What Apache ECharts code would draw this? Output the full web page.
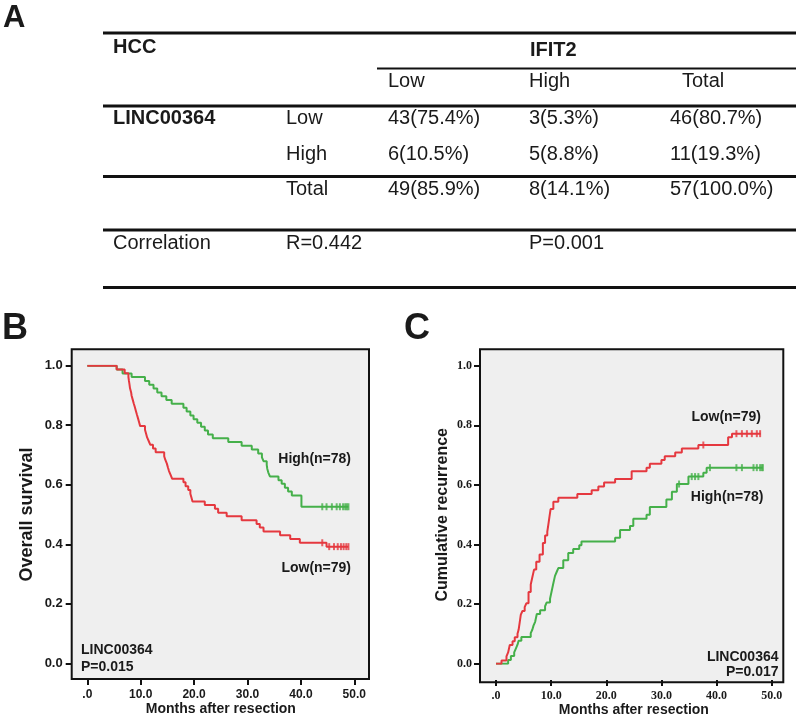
<!DOCTYPE html>
<html>
<head>
<meta charset="utf-8">
<script src="https://cdn.jsdelivr.net/npm/echarts@6/dist/echarts.min.js"></script>
<style>
html,body{margin:0;padding:0;background:#fff;}
#chart{width:797px;height:718px;}
</style>
</head>
<body>
<div id="chart"></div>
<script>
// ---------- DATA ----------
const tableTitle = 'HCC';
const tableGroup = 'IFIT2';
const colHeaders = ['Low', 'High', 'Total'];
const rowGroup = 'LINC00364';
const rowLabels = ['Low', 'High', 'Total'];
const cellValues = [
  ['43(75.4%)', '3(5.3%)', '46(80.7%)'],
  ['6(10.5%)', '5(8.8%)', '11(19.3%)'],
  ['49(85.9%)', '8(14.1%)', '57(100.0%)']
];
const correlationRow = ['Correlation', 'R=0.442', 'P=0.001'];

const xTicks = [0, 10, 20, 30, 40, 50];
const yTicks = [0, 0.2, 0.4, 0.6, 0.8, 1.0];

// Panel B: overall survival (Kaplan-Meier, [month, survival])
const osHigh = [[0,1],[5.5,0.987],[6.6,0.974],[8.3,0.962],[10.8,0.949],[11.6,0.936],[12.4,0.923],[13.1,0.910],[13.9,0.897],[14.8,0.885],[15.8,0.872],
  [18.0,0.859],[18.6,0.846],[19.3,0.833],[19.9,0.820],[20.6,0.808],[21.3,0.795],[22.0,0.782],[22.6,0.769],[23.5,0.756],[26.4,0.744],[28.9,0.731],
  [30.8,0.718],[32.0,0.705],[32.7,0.692],[33.0,0.679],[33.6,0.667],[33.7,0.654],[33.9,0.641],[34.2,0.628],[35.8,0.615],[36.4,0.603],[37.0,0.590],
  [37.6,0.577],[38.3,0.564],[40.1,0.526],[48.9,0.526]];
const osLow = [[0,1],[5.5,0.987],[7.0,0.975],[7.7,0.962],[7.8,0.949],[7.9,0.937],[8.0,0.924],[8.2,0.911],[8.3,0.899],[8.5,0.886],[8.7,0.873],[8.9,0.861],
  [9.1,0.848],[9.3,0.835],[9.5,0.823],[9.7,0.810],[9.9,0.797],[10.8,0.785],[11.0,0.772],[11.2,0.759],[11.5,0.747],[11.8,0.734],[12.3,0.722],[12.8,0.709],
  [14.4,0.696],[14.6,0.684],[14.9,0.671],[15.1,0.658],[15.3,0.646],[15.6,0.633],[15.9,0.620],[18.0,0.608],[18.4,0.595],[18.9,0.582],[19.3,0.570],
  [19.5,0.557],[19.7,0.544],[22.0,0.532],[23.9,0.519],[24.5,0.506],[26.1,0.494],[28.9,0.481],[31.7,0.468],[32.3,0.456],[33.0,0.443],[36.1,0.430],
  [38.0,0.418],[39.8,0.405],[44.8,0.392],[48.9,0.392]];
const osHighCensor = [[44.0,0.526],[44.8,0.526],[45.8,0.526],[46.7,0.526],[47.3,0.526],[47.9,0.526],[48.3,0.526],[48.6,0.526],[48.9,0.526]];
const osLowCensor = [[44.0,0.405],[45.3,0.392],[46.2,0.392],[46.9,0.392],[47.5,0.392],[48.0,0.392],[48.5,0.392],[48.9,0.392]];

// Panel C: cumulative recurrence ([month, cumulative proportion])
const crLow = [[0,0],[1.0,0.011],[1.9,0.025],[2.2,0.038],[2.5,0.063],[3.0,0.076],[3.4,0.089],[3.9,0.101],[4.1,0.114],[4.3,0.139],[4.5,0.165],[4.8,0.177],
  [5.2,0.190],[5.5,0.203],[5.9,0.241],[6.3,0.266],[6.6,0.291],[6.9,0.316],[7.3,0.342],[7.9,0.367],[8.5,0.405],[8.9,0.430],[9.3,0.443],[9.5,0.468],
  [9.7,0.494],[9.9,0.519],[10.4,0.544],[11.3,0.557],[14.75,0.570],[17.35,0.582],[18.56,0.595],[19.6,0.608],[21.6,0.620],[24.6,0.646],[27.3,0.658],
  [27.9,0.671],[30.0,0.684],[30.6,0.696],[32.5,0.709],[33.7,0.722],[36.7,0.734],[42.1,0.760],[42.8,0.772],[48.0,0.772]];
const crHigh = [[0,0],[2.2,0.013],[2.7,0.026],[3.3,0.038],[3.6,0.051],[3.9,0.064],[4.1,0.077],[4.6,0.090],[6.3,0.103],[6.6,0.115],[6.8,0.128],
  [7.1,0.141],[7.4,0.167],[8.0,0.180],[8.9,0.193],[9.2,0.206],[9.8,0.218],[10.1,0.244],[10.4,0.270],[10.7,0.295],[11.0,0.308],[11.3,0.321],
  [12.2,0.347],[13.1,0.372],[14.0,0.385],[15.1,0.398],[15.5,0.410],[21.6,0.423],[22.5,0.449],[24.3,0.462],[24.9,0.487],[27.3,0.500],[27.9,0.526],
  [30.9,0.551],[31.9,0.577],[32.8,0.603],[34.9,0.628],[37.6,0.641],[38.2,0.658],[48.4,0.658]];
const crLowCensor = [[37.6,0.734],[43.6,0.772],[44.6,0.772],[45.5,0.772],[46.4,0.772],[47.3,0.772],[47.9,0.772]];
const crHighCensor = [[33.2,0.603],[35.5,0.628],[36.1,0.628],[36.7,0.628],[38.8,0.658],[43.6,0.658],[44.6,0.658],[46.7,0.658],[47.3,0.658],[47.9,0.658],[48.2,0.658],[48.4,0.658]];

// ---------- STYLE / LAYOUT ----------
const GREEN = '#45b04a', RED = '#e5383f', INK = '#1a1a1a';
const SANS = 'Liberation Sans, Arial, sans-serif';
const SERIF = 'Liberation Serif, Times New Roman, serif';

const chart = echarts.init(document.getElementById('chart'), null, {renderer: 'canvas'});

function txt(text, x, y, size, bold, align, fam) {
  return {type: 'text', z: 10, style: {
    text: text, x: x, y: y, fill: INK,
    font: (bold ? 'bold ' : '') + size + 'px ' + (fam || SANS),
    align: align || 'left', verticalAlign: 'middle',
    textAlign: align || 'left', textVerticalAlign: 'middle'
  }};
}
function hline(x1, x2, y, w) {
  return {type: 'line', z: 10, shape: {x1: x1, y1: y, x2: x2, y2: y}, style: {stroke: '#111', lineWidth: w}};
}

const colX = [388, 529, 670];
const headX = [388, 529, 682];
const rowY = [118, 154, 189];
const graphics = [];
graphics.push(txt('A', 3, 18, 31, true));
graphics.push(txt('B', 2, 329, 36, true));
graphics.push(txt('C', 404, 329, 36, true));
graphics.push(hline(103, 796, 33, 3));
graphics.push(hline(377, 796, 68.5, 2));
graphics.push(hline(103, 796, 106, 3));
graphics.push(hline(103, 796, 176.5, 3));
graphics.push(hline(103, 796, 230, 3));
graphics.push(hline(103, 796, 287.5, 3));
graphics.push(txt(tableTitle, 113, 47, 20, true));
graphics.push(txt(tableGroup, 530, 50, 20, true));
colHeaders.forEach((h, i) => graphics.push(txt(h, headX[i], 81, 20, false)));
graphics.push(txt(rowGroup, 113, rowY[0], 20, true));
rowLabels.forEach((r, i) => {
  graphics.push(txt(r, 286, rowY[i], 20, false));
  cellValues[i].forEach((c, j) => graphics.push(txt(c, colX[j], rowY[i], 20, false)));
});
graphics.push(txt(correlationRow[0], 113, 243, 20, false));
graphics.push(txt(correlationRow[1], 286, 243, 20, false));
graphics.push(txt(correlationRow[2], 529, 243, 20, false));
// Panel annotations
graphics.push(txt('High(n=78)', 351, 459.5, 14, true, 'right'));
graphics.push(txt('Low(n=79)', 351, 568.5, 14, true, 'right'));
graphics.push(txt('LINC00364', 81, 650, 14, true, 'left'));
graphics.push(txt('P=0.015', 81, 667, 14, true, 'left'));
graphics.push(txt('Low(n=79)', 761, 417.5, 14, true, 'right'));
graphics.push(txt('High(n=78)', 763.5, 497, 14, true, 'right'));
graphics.push(txt('LINC00364', 778.5, 657, 14, true, 'right'));
graphics.push(txt('P=0.017', 778.5, 672, 14, true, 'right'));

const frameStyle = {show: true, backgroundColor: '#efefef', borderColor: '#111', borderWidth: 2};

function dataXAxis(gi, offset, fam, gap) {
  return {
    type: 'value', gridIndex: gi, min: xTicks[0], max: xTicks[xTicks.length - 1], interval: 10,
    position: 'bottom', offset: offset,
    axisLine: {show: false, onZero: false},
    axisTick: {show: true, inside: false, length: 6, lineStyle: {color: '#111', width: 2}},
    axisLabel: {margin: 10, color: INK, fontWeight: 'bold', fontSize: 12, fontFamily: fam,
      formatter: v => v === 0 ? '.0' : v.toFixed(1)},
    splitLine: {show: false},
    name: 'Months after resection', nameLocation: 'middle', nameGap: gap,
    nameTextStyle: {color: INK, fontWeight: 'bold', fontSize: 14, fontFamily: SANS}
  };
}
function dataYAxis(gi, offset, fam, name, nameSize, gap, lblSize, margin) {
  return {
    type: 'value', gridIndex: gi, min: yTicks[0], max: yTicks[yTicks.length - 1], interval: 0.2,
    position: 'left', offset: offset,
    axisLine: {show: false, onZero: false},
    axisTick: {show: true, inside: false, length: 6, lineStyle: {color: '#111', width: 2}},
    axisLabel: {margin: margin, color: INK, fontWeight: 'bold', fontSize: lblSize, fontFamily: fam,
      formatter: v => v.toFixed(1)},
    splitLine: {show: false},
    name: name, nameLocation: 'middle', nameGap: gap,
    nameTextStyle: {color: INK, fontWeight: 'bold', fontSize: nameSize, fontFamily: SANS}
  };
}
function stepLine(data, color, xi, yi) {
  return {type: 'line', xAxisIndex: xi, yAxisIndex: yi, data: data, step: 'end', showSymbol: false,
    symbol: 'none', lineStyle: {color: color, width: 2}, itemStyle: {color: color}, silent: true, animation: false, z: 3};
}
function censor(data, color, xi, yi) {
  return {type: 'scatter', xAxisIndex: xi, yAxisIndex: yi, data: data, symbol: 'rect', symbolSize: [2, 7],
    itemStyle: {color: color}, silent: true, animation: false, z: 4};
}
const hiddenAxis = gi => ({type: 'value', gridIndex: gi, show: false, min: 0, max: 1});

const option = {
  backgroundColor: '#ffffff',
  animation: false,
  grid: [
    Object.assign({left: 71.7, top: 349.3, width: 297.3, height: 329.7}, frameStyle),
    {left: 87.3, top: 365.7, width: 267, height: 297.6, show: false},
    Object.assign({left: 480, top: 349.3, width: 303.3, height: 333}, frameStyle),
    {left: 496, top: 365.7, width: 275.7, height: 300.3, show: false}
  ],
  xAxis: [hiddenAxis(0), dataXAxis(1, 15.7, SANS, 23), hiddenAxis(2), dataXAxis(3, 16.3, SERIF, 21)],
  yAxis: [hiddenAxis(0), dataYAxis(1, 15.6, SANS, 'Overall survival', 18, 36, 13, 9),
          hiddenAxis(2), dataYAxis(3, 16, SERIF, 'Cumulative recurrence', 16, 29, 12, 8)],
  series: [
    stepLine(osHigh, GREEN, 1, 1),
    stepLine(osLow, RED, 1, 1),
    censor(osHighCensor, GREEN, 1, 1),
    censor(osLowCensor, RED, 1, 1),
    stepLine(crHigh, GREEN, 3, 3),
    stepLine(crLow, RED, 3, 3),
    censor(crHighCensor, GREEN, 3, 3),
    censor(crLowCensor, RED, 3, 3)
  ],
  graphic: graphics
};
chart.setOption(option);
</script>
</body>
</html>
